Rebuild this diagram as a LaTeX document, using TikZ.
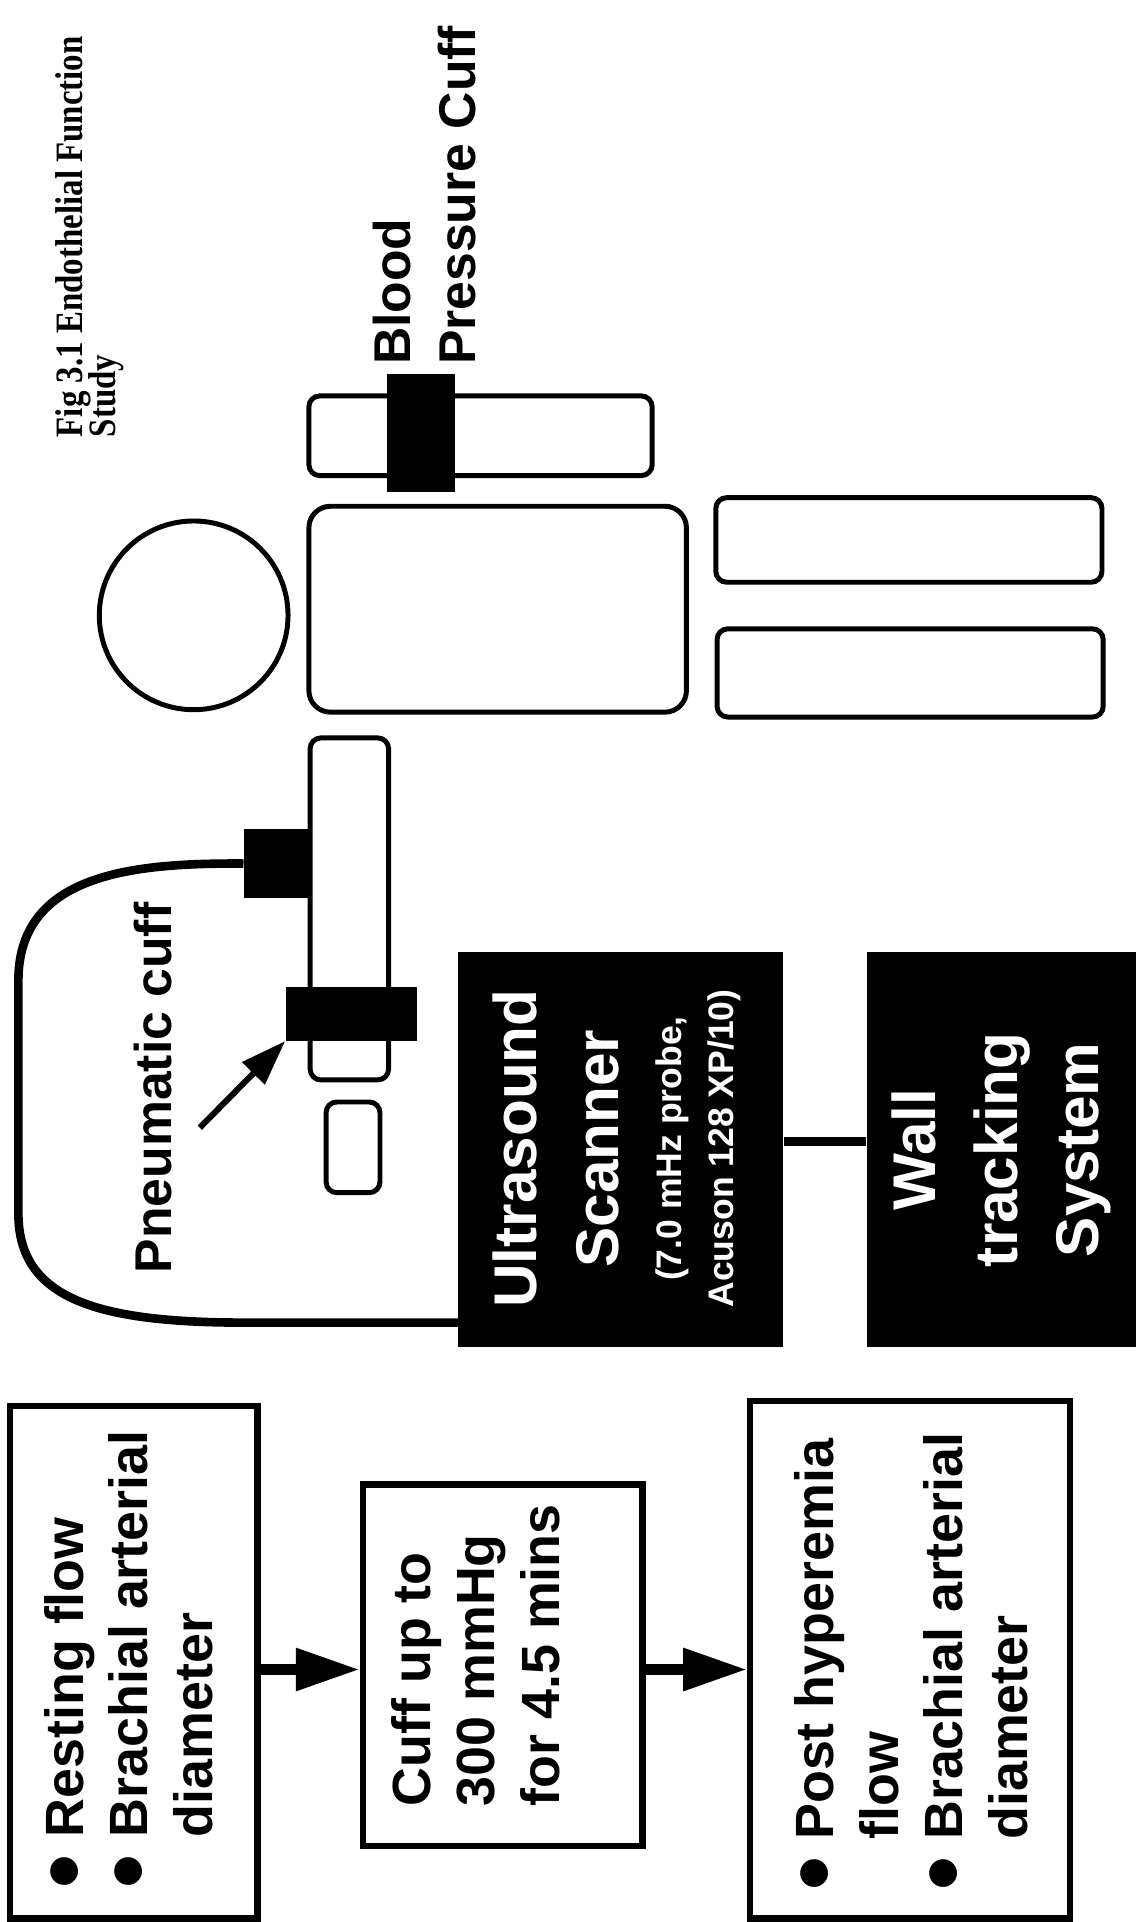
\documentclass[tikz,border=0pt]{standalone}
\usepackage{fontspec}
\setmainfont{Liberation Serif}
\setsansfont{Liberation Sans}
\usepackage{tikz}
\usetikzlibrary{arrows.meta,fit,positioning}

\newcommand{\leftrows}[1]{\begin{tabular}[t]{@{}l@{}}#1\end{tabular}}
\newcommand{\midrows}[1]{\begin{tabular}[t]{@{}c@{}}#1\end{tabular}}
\newcommand{\dotrows}[1]{\begin{tabular}[t]{@{}l@{\hspace{8pt}}l@{}}#1\end{tabular}}
\newcommand{\blt}{\raisebox{-6pt}{\fontsize{45}{30}\selectfont •}}

\tikzset{
  limb/.style={draw, line width=2.3pt, rounded corners=5pt, inner sep=0pt},
  cuffband/.style={fill=black, inner sep=0pt},
  unit/.style={fill=black, inner sep=0pt},
  stepbox/.style={draw, line width=3pt, inner sep=0pt},
  vlabel/.style={rotate=90, inner sep=0pt, anchor=base west, font=\sffamily\bfseries\fontsize{24}{30}\selectfont},
  steptext/.style={vlabel, font=\sffamily\bfseries\fontsize{25}{30}\selectfont},
  unitlabel/.style={rotate=90, inner sep=0pt, anchor=base, text=white, font=\sffamily\bfseries\fontsize{28}{38}\selectfont},
  tube/.style={line width=4pt},
  flow/.style={line width=5pt, -{Triangle[length=1.04cm,width=0.66cm]}},
  pointer/.style={line width=2.8pt, -{Triangle[length=0.74cm,width=0.5cm]}},
}

\begin{document}
\begin{tikzpicture}[x=0.02cm, y=-0.02cm] % 1 unit = 1 px of the page, y downwards
  \useasboundingbox (0,0) rectangle (932,1568);

  % title
  \node[rotate=90, xscale=0.85, inner sep=0pt, anchor=base west, font=\rmfamily\bfseries\fontsize{18}{14}\selectfont] (title) at (67,357) {\leftrows{Fig 3.1 Endothelial Function\\[-1pt]Study}};

  % patient, seen from above
  \node[draw, circle, line width=2.3pt, minimum size=3.08cm, inner sep=0pt] (head) at (158,502) {};
  \node[limb, rounded corners=10pt, fit={(252,413) (560,581)}] (trunk) {};
  \node[limb, fit={(252,323) (532,388)}] (rarm) {};
  \node[cuffband, fit={(316,305) (371,401)}] (bpcuff) {};
  \node[limb, fit={(584,406) (899,475)}] (rleg) {};
  \node[limb, fit={(585,513) (900,585)}] (lleg) {};
  \node[limb, fit={(253,602) (317,881)}] (larm) {};
  \node[limb, fit={(266,899) (310,973)}] (hand) {};
  \node[cuffband, fit={(199,676) (253,733)}] (cuffA) {};
  \node[cuffband, fit={(233,805) (340,849)}] (cuffB) {};

  \node[vlabel] (bplabel) at (335,298) {\leftrows{Blood\\Pressure Cuff}};
  \node[vlabel] (pclabel) at (140,1039) {Pneumatic cuff};
  \coordinate (ptrtail) at (163,920);
  \draw[pointer] (ptrtail) -- (cuffB.south west);

  % equipment
  \node[unit, fit={(374,777) (639,1099)}] (scanner) {};
  \node[unit, fit={(707,777) (927,1099)}] (wall) {};
  \node[unitlabel] (sctitle) at (438,937) {\midrows{Ultrasound\\Scanner}};
  \node[unitlabel, font=\sffamily\bfseries\fontsize{16.5}{24}\selectfont] (scnote) at (556,937) {\midrows{(7.0 mHz probe,\\Acuson 128 XP/10)}};
  \node[unitlabel] (walltext) at (763,938) {\midrows{Wall\\tracking\\System}};

  \coordinate (wirerow) at (0,931);
  \draw[tube] (scanner.east |- wirerow) -- (wall.west |- wirerow);
  \coordinate (tubeturn) at (200,1079);
  \draw[tube] (cuffA.west) .. controls (110,704) and (15,712) .. (15,800) -- (15,990)
    .. controls (15,1060) and (80,1079) .. (tubeturn) -- (tubeturn -| scanner.west);

  % protocol
  \node[stepbox, fit={(8,1147) (210,1565)}] (rest) {};
  \node[stepbox, fit={(296,1211) (524,1506)}] (occlude) {};
  \node[stepbox, fit={(612,1143) (873,1565)}] (hyper) {};
  \node[steptext] (resttext) at (68,1541) {\dotrows{\blt & Resting flow\\\blt & Brachial arterial\\ & diameter}};
  \node[steptext] (occltext) at (351,1474) {\leftrows{Cuff up to\\300 mmHg\\for 4.5 mins}};
  \node[steptext] (hypertext) at (680,1543) {\dotrows{\blt & Post hyperemia\\ & flow\\\blt & Brachial arterial\\ & diameter}};

  \coordinate (flowrow) at (0,1362);
  \draw[flow] (rest.east |- flowrow) -- (occlude.west |- flowrow);
  \draw[flow] (occlude.east |- flowrow) -- (hyper.west |- flowrow);
\end{tikzpicture}
\end{document}
